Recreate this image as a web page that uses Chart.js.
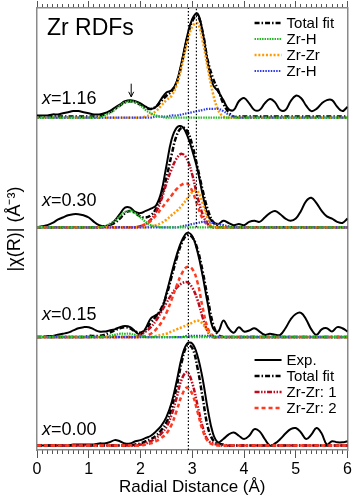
<!DOCTYPE html>
<html>
<head>
<meta charset="utf-8">
<script src="https://cdn.jsdelivr.net/npm/chart.js@4.4.1/dist/chart.umd.min.js"></script>
<style>
  body { margin: 0; background: #fff; }
  #rdfChart { display: block; }
</style>
</head>
<body>
<canvas id="rdfChart" width="354" height="500"></canvas>
<script>
// Radial distance grid (Å)
const radii = [
  0.0, 0.1, 0.2, 0.3, 0.4, 0.5, 0.6, 0.7, 0.8, 0.9,
  1.0, 1.1, 1.2, 1.3, 1.4, 1.5, 1.6, 1.7, 1.8, 1.9,
  2.0, 2.1, 2.2, 2.3, 2.4, 2.5, 2.6, 2.7, 2.8, 2.9,
  3.0, 3.1, 3.2, 3.3, 3.4, 3.5, 3.6, 3.7, 3.8, 3.9,
  4.0, 4.1, 4.2, 4.3, 4.4, 4.5, 4.6, 4.7, 4.8, 4.9,
  5.0, 5.1, 5.2, 5.3, 5.4, 5.5, 5.6, 5.7, 5.8, 5.9,
  6.0
];

// x = 1.16
const exp116 = [
  0.02, 0.02, 0.02, 0.03, 0.03, 0.04, 0.05, 0.06, 0.06, 0.05,
  0.04, 0.03, 0.03, 0.04, 0.06, 0.09, 0.12, 0.15, 0.16, 0.15,
  0.13, 0.10, 0.08, 0.10, 0.17, 0.23, 0.25, 0.33, 0.52, 0.74,
  0.90, 0.95, 0.78, 0.50, 0.30, 0.24, 0.16, 0.08, 0.07, 0.15,
  0.18, 0.13, 0.07, 0.07, 0.13, 0.17, 0.14, 0.07, 0.07, 0.15,
  0.20, 0.18, 0.11, 0.06, 0.08, 0.13, 0.16, 0.16, 0.10, 0.06,
  0.10
];
const fit116 = [
  0.01, 0.01, 0.01, 0.01, 0.01, 0.01, 0.01, 0.01, 0.01, 0.01,
  0.01, 0.01, 0.01, 0.03, 0.05, 0.08, 0.11, 0.14, 0.15, 0.14,
  0.12, 0.09, 0.08, 0.10, 0.15, 0.20, 0.24, 0.32, 0.50, 0.72,
  0.88, 0.93, 0.78, 0.52, 0.36, 0.25, 0.13, 0.05, 0.01, 0.01,
  0.01, 0.01, 0.01, 0.01, 0.01, 0.01, 0.01, 0.01, 0.01, 0.01,
  0.01, 0.01, 0.01, 0.01, 0.01, 0.01, 0.01, 0.01, 0.01, 0.01,
  0.01
];
const zrH116 = [
  0, 0, 0, 0, 0, 0, 0, 0, 0, 0,
  0, 0, 0, 0.02, 0.04, 0.07, 0.11, 0.14, 0.15, 0.14,
  0.11, 0.07, 0.04, 0.02, 0.01, 0, 0, 0, 0, 0,
  0, 0, 0, 0, 0, 0, 0, 0, 0, 0,
  0, 0, 0, 0, 0, 0, 0, 0, 0, 0,
  0, 0, 0, 0, 0, 0, 0, 0, 0, 0,
  0
];
const zrZr116 = [
  0, 0, 0, 0, 0, 0, 0, 0, 0, 0,
  0, 0, 0, 0, 0, 0, 0, 0, 0, 0,
  0, 0.01, 0.03, 0.06, 0.11, 0.16, 0.20, 0.30, 0.48, 0.68,
  0.83, 0.86, 0.70, 0.45, 0.22, 0.07, 0.01, 0, 0, 0,
  0, 0, 0, 0, 0, 0, 0, 0, 0, 0,
  0, 0, 0, 0, 0, 0, 0, 0, 0, 0,
  0
];
const zrHfar116 = [
  0, 0, 0, 0, 0, 0, 0, 0, 0, 0,
  0, 0, 0, 0, 0, 0, 0, 0, 0, 0,
  0, 0, 0, 0.01, 0.01, 0.01, 0.02, 0.02, 0.03, 0.04,
  0.05, 0.06, 0.07, 0.08, 0.08, 0.08, 0.06, 0.03, 0.01, 0,
  0, 0, 0, 0, 0, 0, 0, 0, 0, 0,
  0, 0, 0, 0, 0, 0, 0, 0, 0, 0,
  0
];

// x = 0.30
const exp030 = [
  0.00, 0.01, 0.02, 0.04, 0.07, 0.09, 0.11, 0.12, 0.12, 0.11,
  0.09, 0.05, 0.02, 0.01, 0.02, 0.06, 0.12, 0.18, 0.18, 0.14,
  0.13, 0.15, 0.17, 0.20, 0.32, 0.56, 0.80, 0.91, 0.92, 0.84,
  0.70, 0.53, 0.30, 0.11, 0.05, 0.03, 0.06, 0.04, 0.02, 0.03,
  0.02, 0.05, 0.06, 0.05, 0.09, 0.13, 0.15, 0.12, 0.08, 0.06,
  0.08, 0.15, 0.24, 0.27, 0.22, 0.15, 0.10, 0.08, 0.05, 0.04,
  0.08
];
const fit030 = [
  0, 0, 0, 0, 0, 0, 0, 0, 0, 0,
  0, 0, 0, 0.01, 0.02, 0.04, 0.08, 0.13, 0.15, 0.13,
  0.10, 0.09, 0.11, 0.17, 0.28, 0.45, 0.66, 0.84, 0.91, 0.88,
  0.75, 0.55, 0.34, 0.16, 0.05, 0.01, 0, 0, 0, 0,
  0, 0, 0, 0, 0, 0, 0, 0, 0, 0,
  0, 0, 0, 0, 0, 0, 0, 0, 0, 0,
  0
];
const zz1030 = [
  0, 0, 0, 0, 0, 0, 0, 0, 0, 0,
  0, 0, 0, 0, 0, 0, 0, 0, 0, 0,
  0.01, 0.03, 0.07, 0.14, 0.25, 0.40, 0.53, 0.63, 0.67, 0.62,
  0.48, 0.28, 0.12, 0.03, 0, 0, 0, 0, 0, 0,
  0, 0, 0, 0, 0, 0, 0, 0, 0, 0,
  0, 0, 0, 0, 0, 0, 0, 0, 0, 0,
  0
];
const zz2030 = [
  0, 0, 0, 0, 0, 0, 0, 0, 0, 0,
  0, 0, 0, 0, 0, 0, 0, 0, 0, 0,
  0.01, 0.03, 0.06, 0.11, 0.17, 0.23, 0.29, 0.35, 0.39, 0.40,
  0.33, 0.20, 0.08, 0.02, 0, 0, 0, 0, 0, 0,
  0, 0, 0, 0, 0, 0, 0, 0, 0, 0,
  0, 0, 0, 0, 0, 0, 0, 0, 0, 0,
  0
];
const zrH030 = [
  0, 0, 0, 0, 0, 0, 0, 0, 0, 0,
  0, 0, 0, 0.01, 0.03, 0.06, 0.10, 0.14, 0.15, 0.13,
  0.09, 0.05, 0.02, 0.01, 0, 0, 0, 0, 0, 0,
  0, 0, 0, 0, 0, 0, 0, 0, 0, 0,
  0, 0, 0, 0, 0, 0, 0, 0, 0, 0,
  0, 0, 0, 0, 0, 0, 0, 0, 0, 0,
  0
];
const zrZr030 = [
  0, 0, 0, 0, 0, 0, 0, 0, 0, 0,
  0, 0, 0, 0, 0, 0, 0, 0, 0, 0,
  0, 0, 0.01, 0.02, 0.04, 0.07, 0.11, 0.15, 0.20, 0.26,
  0.32, 0.33, 0.22, 0.08, 0.01, 0, 0, 0, 0, 0,
  0, 0, 0, 0, 0, 0, 0, 0, 0, 0,
  0, 0, 0, 0, 0, 0, 0, 0, 0, 0,
  0
];
const zrHfar030 = [
  0, 0, 0, 0, 0, 0, 0, 0, 0, 0,
  0, 0, 0, 0, 0, 0, 0, 0, 0, 0,
  0, 0, 0, 0, 0, 0, 0, 0, 0.01, 0.02,
  0.03, 0.04, 0.05, 0.05, 0.04, 0.03, 0.02, 0.01, 0, 0,
  0, 0, 0, 0, 0, 0, 0, 0, 0, 0,
  0, 0, 0, 0, 0, 0, 0, 0, 0, 0,
  0
];

// x = 0.15
const exp015 = [
  0.00, 0.00, 0.01, 0.01, 0.02, 0.03, 0.04, 0.06, 0.08, 0.09,
  0.09, 0.07, 0.05, 0.05, 0.06, 0.07, 0.09, 0.10, 0.09, 0.05,
  0.02, 0.08, 0.17, 0.20, 0.24, 0.40, 0.58, 0.75, 0.88, 0.95,
  0.92, 0.78, 0.56, 0.30, 0.08, 0.05, 0.15, 0.08, 0.04, 0.09,
  0.05, 0.06, 0.08, 0.05, 0.02, 0.03, 0.02, 0.02, 0.08, 0.16,
  0.21, 0.22, 0.16, 0.07, 0.02, 0.07, 0.08, 0.05, 0.09, 0.08,
  0.05
];
const fit015 = [
  0, 0, 0, 0, 0, 0, 0, 0, 0, 0,
  0.01, 0.01, 0.01, 0.02, 0.04, 0.06, 0.08, 0.09, 0.08, 0.05,
  0.04, 0.07, 0.13, 0.19, 0.26, 0.38, 0.55, 0.72, 0.86, 0.93,
  0.91, 0.80, 0.60, 0.35, 0.12, 0.02, 0, 0, 0, 0,
  0, 0, 0, 0, 0, 0, 0, 0, 0, 0,
  0, 0, 0, 0, 0, 0, 0, 0, 0, 0,
  0
];
const zz1015 = [
  0, 0, 0, 0, 0, 0, 0, 0, 0, 0,
  0, 0, 0, 0, 0, 0, 0, 0, 0, 0,
  0.02, 0.05, 0.09, 0.15, 0.23, 0.31, 0.39, 0.45, 0.49, 0.50,
  0.45, 0.34, 0.18, 0.05, 0, 0, 0, 0, 0, 0,
  0, 0, 0, 0, 0, 0, 0, 0, 0, 0,
  0, 0, 0, 0, 0, 0, 0, 0, 0, 0,
  0
];
const zz2015 = [
  0, 0, 0, 0, 0, 0, 0, 0, 0, 0,
  0, 0, 0, 0, 0, 0, 0, 0, 0, 0,
  0, 0.01, 0.03, 0.07, 0.13, 0.22, 0.34, 0.47, 0.58, 0.64,
  0.62, 0.50, 0.27, 0.08, 0.01, 0, 0, 0, 0, 0,
  0, 0, 0, 0, 0, 0, 0, 0, 0, 0,
  0, 0, 0, 0, 0, 0, 0, 0, 0, 0,
  0
];
const zrH015 = [
  0, 0, 0, 0, 0, 0, 0, 0, 0, 0,
  0, 0, 0, 0, 0.01, 0.02, 0.03, 0.03, 0.03, 0.02,
  0.01, 0, 0, 0, 0, 0, 0, 0, 0, 0,
  0, 0, 0, 0, 0, 0, 0, 0, 0, 0,
  0, 0, 0, 0, 0, 0, 0, 0, 0, 0,
  0, 0, 0, 0, 0, 0, 0, 0, 0, 0,
  0
];
const zrZr015 = [
  0, 0, 0, 0, 0, 0, 0, 0, 0, 0,
  0, 0, 0, 0, 0, 0, 0, 0, 0, 0,
  0, 0, 0, 0.01, 0.02, 0.03, 0.05, 0.07, 0.09, 0.11,
  0.13, 0.15, 0.12, 0.05, 0.01, 0, 0, 0, 0, 0,
  0, 0, 0, 0, 0, 0, 0, 0, 0, 0,
  0, 0, 0, 0, 0, 0, 0, 0, 0, 0,
  0
];
const zrHfar015 = [
  0, 0, 0, 0, 0, 0, 0, 0, 0, 0,
  0, 0, 0, 0, 0, 0, 0, 0, 0, 0,
  0, 0, 0, 0, 0, 0, 0, 0, 0, 0.01,
  0.01, 0.01, 0.01, 0.01, 0.01, 0, 0, 0, 0, 0,
  0, 0, 0, 0, 0, 0, 0, 0, 0, 0,
  0, 0, 0, 0, 0, 0, 0, 0, 0, 0,
  0
];

// x = 0.00
const exp000 = [
  0.01, 0.01, 0.01, 0.01, 0.01, 0.01, 0.01, 0.02, 0.02, 0.02,
  0.02, 0.02, 0.03, 0.03, 0.04, 0.06, 0.05, 0.03, 0.03, 0.05,
  0.06, 0.08, 0.10, 0.14, 0.19, 0.27, 0.40, 0.60, 0.82, 0.94,
  0.94, 0.83, 0.62, 0.34, 0.12, 0.04, 0.07, 0.11, 0.13, 0.10,
  0.07, 0.10, 0.16, 0.14, 0.07, 0.01, 0.03, 0.07, 0.12, 0.16,
  0.17, 0.13, 0.07, 0.11, 0.17, 0.12, 0.02, 0.05, 0.04, 0.04,
  0.05
];
const fit000 = [
  0.01, 0.01, 0.01, 0.01, 0.01, 0.01, 0.01, 0.01, 0.01, 0.01,
  0.01, 0.01, 0.01, 0.01, 0.01, 0.01, 0.01, 0.01, 0.01, 0.02,
  0.03, 0.05, 0.07, 0.10, 0.15, 0.22, 0.35, 0.55, 0.78, 0.92,
  0.90, 0.72, 0.45, 0.18, 0.06, 0.03, 0.02, 0.01, 0.01, 0.01,
  0.01, 0.01, 0.01, 0.01, 0.01, 0.01, 0.01, 0.01, 0.01, 0.01,
  0.01, 0.01, 0.01, 0.01, 0.01, 0.01, 0.01, 0.01, 0.01, 0.01,
  0.01
];
const zz1000 = [
  0.01, 0.01, 0.01, 0.01, 0.01, 0.01, 0.01, 0.01, 0.01, 0.01,
  0.01, 0.01, 0.01, 0.01, 0.01, 0.01, 0.01, 0.01, 0.01, 0.01,
  0.02, 0.03, 0.05, 0.08, 0.12, 0.18, 0.29, 0.45, 0.62, 0.68,
  0.58, 0.38, 0.18, 0.06, 0.03, 0.02, 0.01, 0.01, 0.01, 0.01,
  0.01, 0.01, 0.01, 0.01, 0.01, 0.01, 0.01, 0.01, 0.01, 0.01,
  0.01, 0.01, 0.01, 0.01, 0.01, 0.01, 0.01, 0.01, 0.01, 0.01,
  0.01
];
const zz2000 = [
  0.01, 0.01, 0.01, 0.01, 0.01, 0.01, 0.01, 0.01, 0.01, 0.01,
  0.01, 0.01, 0.01, 0.01, 0.01, 0.01, 0.01, 0.01, 0.01, 0.01,
  0.01, 0.02, 0.03, 0.05, 0.08, 0.12, 0.20, 0.33, 0.47, 0.54,
  0.48, 0.32, 0.15, 0.05, 0.02, 0.01, 0.01, 0.01, 0.01, 0.01,
  0.01, 0.01, 0.01, 0.01, 0.01, 0.01, 0.01, 0.01, 0.01, 0.01,
  0.01, 0.01, 0.01, 0.01, 0.01, 0.01, 0.01, 0.01, 0.01, 0.01,
  0.01
];

// panels are stacked with these vertical offsets (top to bottom)
const compositions = ['1.16', '0.30', '0.15', '0.00'];
const panelOffsets = [3, 2, 1, 0];
// dotted guide lines: [radius, from, to]
const guideLines = [[2.925, -0.03, 4.0], [3.08, 2.0, 4.0]];
const xTicks = [0, 1, 2, 3, 4, 5, 6];

const styles = {
  exp:    { color: '#000000', width: 2,   dash: [] },
  fit:    { color: '#000000', width: 2.5, dash: [5, 2, 1.5, 2] },
  zrH:    { color: '#22b922', width: 2.2, dash: [1.5, 1] },
  zrZr:   { color: '#ff9a00', width: 2.5, dash: [2, 1.8] },
  zrHfar: { color: '#2f3ce6', width: 2.2, dash: [1.5, 1.2] },
  zz1:    { color: '#bf0a1e', width: 2.5, dash: [5, 1.5, 1.5, 1.5, 1.5, 1.5] },
  zz2:    { color: '#ff3b1f', width: 2.5, dash: [4, 3] }
};

function series(values, offset, style) {
  return {
    data: values.map((v, i) => ({ x: radii[i], y: v + offset })),
    borderColor: style.color,
    borderWidth: style.width,
    borderDash: style.dash,
    pointRadius: 0,
    tension: 0.4,
    fill: false
  };
}

const panels = [
  [[zrH116, 'zrH'], [zrHfar116, 'zrHfar'], [zrZr116, 'zrZr'], [fit116, 'fit'], [exp116, 'exp']],
  [[zrH030, 'zrH'], [zrHfar030, 'zrHfar'], [zrZr030, 'zrZr'], [zz2030, 'zz2'], [zz1030, 'zz1'], [fit030, 'fit'], [exp030, 'exp']],
  [[zrH015, 'zrH'], [zrHfar015, 'zrHfar'], [zrZr015, 'zrZr'], [zz2015, 'zz2'], [zz1015, 'zz1'], [fit015, 'fit'], [exp015, 'exp']],
  [[zz2000, 'zz2'], [zz1000, 'zz1'], [fit000, 'fit'], [exp000, 'exp']]
];

const datasets = [];
guideLines.forEach(([r, y0, y1]) => {
  datasets.push({
    data: [{ x: r, y: y0 }, { x: r, y: y1 }],
    borderColor: '#000', borderWidth: 1.2, borderDash: [1.5, 2], pointRadius: 0
  });
});
panels.forEach((list, p) => {
  list.forEach(([values, key]) => datasets.push(series(values, panelOffsets[p], styles[key])));
});

const legendTop = [['Total fit', 'fit'], ['Zr-H', 'zrH'], ['Zr-Zr', 'zrZr'], ['Zr-H', 'zrHfar']];
const legendBottom = [['Exp.', 'exp'], ['Total fit', 'fit'], ['Zr-Zr: 1', 'zz1'], ['Zr-Zr: 2', 'zz2']];

const FONT = '"Liberation Sans", Arial, Helvetica, sans-serif';

// title, composition labels, legends and the arrow
const decorations = {
  id: 'decorations',
  afterDatasetsDraw(chart) {
    const { ctx, chartArea: a, scales } = chart;
    const xs = scales.x, ys = scales.y;
    ctx.save();
    ctx.fillStyle = '#000';
    ctx.font = '23px ' + FONT;
    ctx.textBaseline = 'alphabetic';
    ctx.fillText('Zr RDFs', a.left + 10, a.top + 27);

    const labelHeights = [3.17, 2.24, 1.2, 0.155];
    ctx.textBaseline = 'middle';
    compositions.forEach((c, i) => {
      const y = ys.getPixelForValue(labelHeights[i]);
      let x = a.left + 5;
      ctx.font = 'italic 18px ' + FONT;
      ctx.fillText('x', x, y);
      x += ctx.measureText('x').width;
      ctx.font = '18px ' + FONT;
      ctx.fillText('=' + c, x, y);
    });

    function drawLegend(entries, y0) {
      entries.forEach(([label, key], i) => {
        const s = styles[key];
        const y = y0 + i * 16;
        ctx.beginPath();
        ctx.strokeStyle = s.color;
        ctx.lineWidth = s.width;
        ctx.setLineDash(s.dash);
        ctx.moveTo(a.right - 93, y);
        ctx.lineTo(a.right - 66, y);
        ctx.stroke();
        ctx.setLineDash([]);
        ctx.font = '15px ' + FONT;
        ctx.fillText(label, a.right - 61, y + 1);
      });
    }
    drawLegend(legendTop, a.top + 15);
    drawLegend(legendBottom, a.top + 352);

    // arrow marking the Zr-H peak
    const ax = xs.getPixelForValue(1.82);
    const ay0 = ys.getPixelForValue(3.31);
    const ay1 = ys.getPixelForValue(3.19);
    ctx.strokeStyle = '#000';
    ctx.lineWidth = 1;
    ctx.beginPath();
    ctx.moveTo(ax, ay0);
    ctx.lineTo(ax, ay1);
    ctx.moveTo(ax - 2.5, ay1 - 5);
    ctx.lineTo(ax, ay1);
    ctx.lineTo(ax + 2.5, ay1 - 5);
    ctx.stroke();
    ctx.restore();
  }
};

Chart.defaults.font.family = FONT;
Chart.defaults.color = '#000';

const frame = '#8a8a8a';

new Chart(document.getElementById('rdfChart'), {
  type: 'line',
  data: { datasets },
  options: {
    responsive: false,
    animation: false,
    devicePixelRatio: 1,
    layout: { padding: 0, autoPadding: false },
    plugins: { legend: { display: false }, tooltip: { enabled: false } },
    scales: {
      x: {
        type: 'linear', position: 'bottom', weight: 1, min: 0, max: 6,
        afterBuildTicks(scale) { scale.ticks = xTicks.map(v => ({ value: v })); },
        ticks: { font: { size: 16 }, color: '#000', padding: 2, maxRotation: 0, autoSkip: false },
        grid: { drawOnChartArea: false, tickLength: 8, tickColor: '#555' },
        border: { color: frame, width: 1.5 },
        title: { display: true, text: 'Radial Distance (Å)', font: { size: 17 }, color: '#000', padding: { top: 0, bottom: 2 } },
        afterFit(scale) { scale.height = 50; }
      },
      xMinor: {
        type: 'linear', position: 'bottom', weight: 0, min: 0, max: 6,
        ticks: { display: false, stepSize: 0.1, autoSkip: false },
        grid: { drawOnChartArea: false, tickLength: 4, tickColor: '#555' },
        border: { display: false },
        afterFit(scale) { scale.height = 0; }
      },
      xTop: {
        type: 'linear', position: 'top', weight: 1, min: 0, max: 6,
        afterBuildTicks(scale) { scale.ticks = xTicks.map(v => ({ value: v })); },
        ticks: { display: false },
        grid: { drawOnChartArea: false, tickLength: 7, tickColor: '#555' },
        border: { color: frame, width: 1.5 },
        afterFit(scale) { scale.height = 8; }
      },
      xTopMinor: {
        type: 'linear', position: 'top', weight: 0, min: 0, max: 6,
        ticks: { display: false, stepSize: 0.1, autoSkip: false },
        grid: { drawOnChartArea: false, tickLength: 4, tickColor: '#555' },
        border: { display: false },
        afterFit(scale) { scale.height = 0; }
      },
      y: {
        type: 'linear', position: 'left', min: -0.03, max: 4.0,
        afterBuildTicks(scale) { scale.ticks = panelOffsets.map(v => ({ value: v })); },
        ticks: { display: false },
        grid: { drawOnChartArea: false, tickLength: -3, tickColor: '#222' },
        border: { color: frame, width: 1.5 },
        title: { display: true, text: '|χ(R)| (Å⁻³)', font: { size: 18 }, color: '#000', padding: { top: 4, bottom: 0 } },
        afterFit(scale) { scale.width = 37; }
      },
      yRight: {
        type: 'linear', position: 'right', min: -0.03, max: 4.0,
        ticks: { display: false },
        grid: { drawOnChartArea: false, drawTicks: false },
        border: { color: frame, width: 1.5 },
        afterFit(scale) { scale.width = 3; }
      }
    }
  },
  plugins: [decorations]
});
</script>
</body>
</html>
